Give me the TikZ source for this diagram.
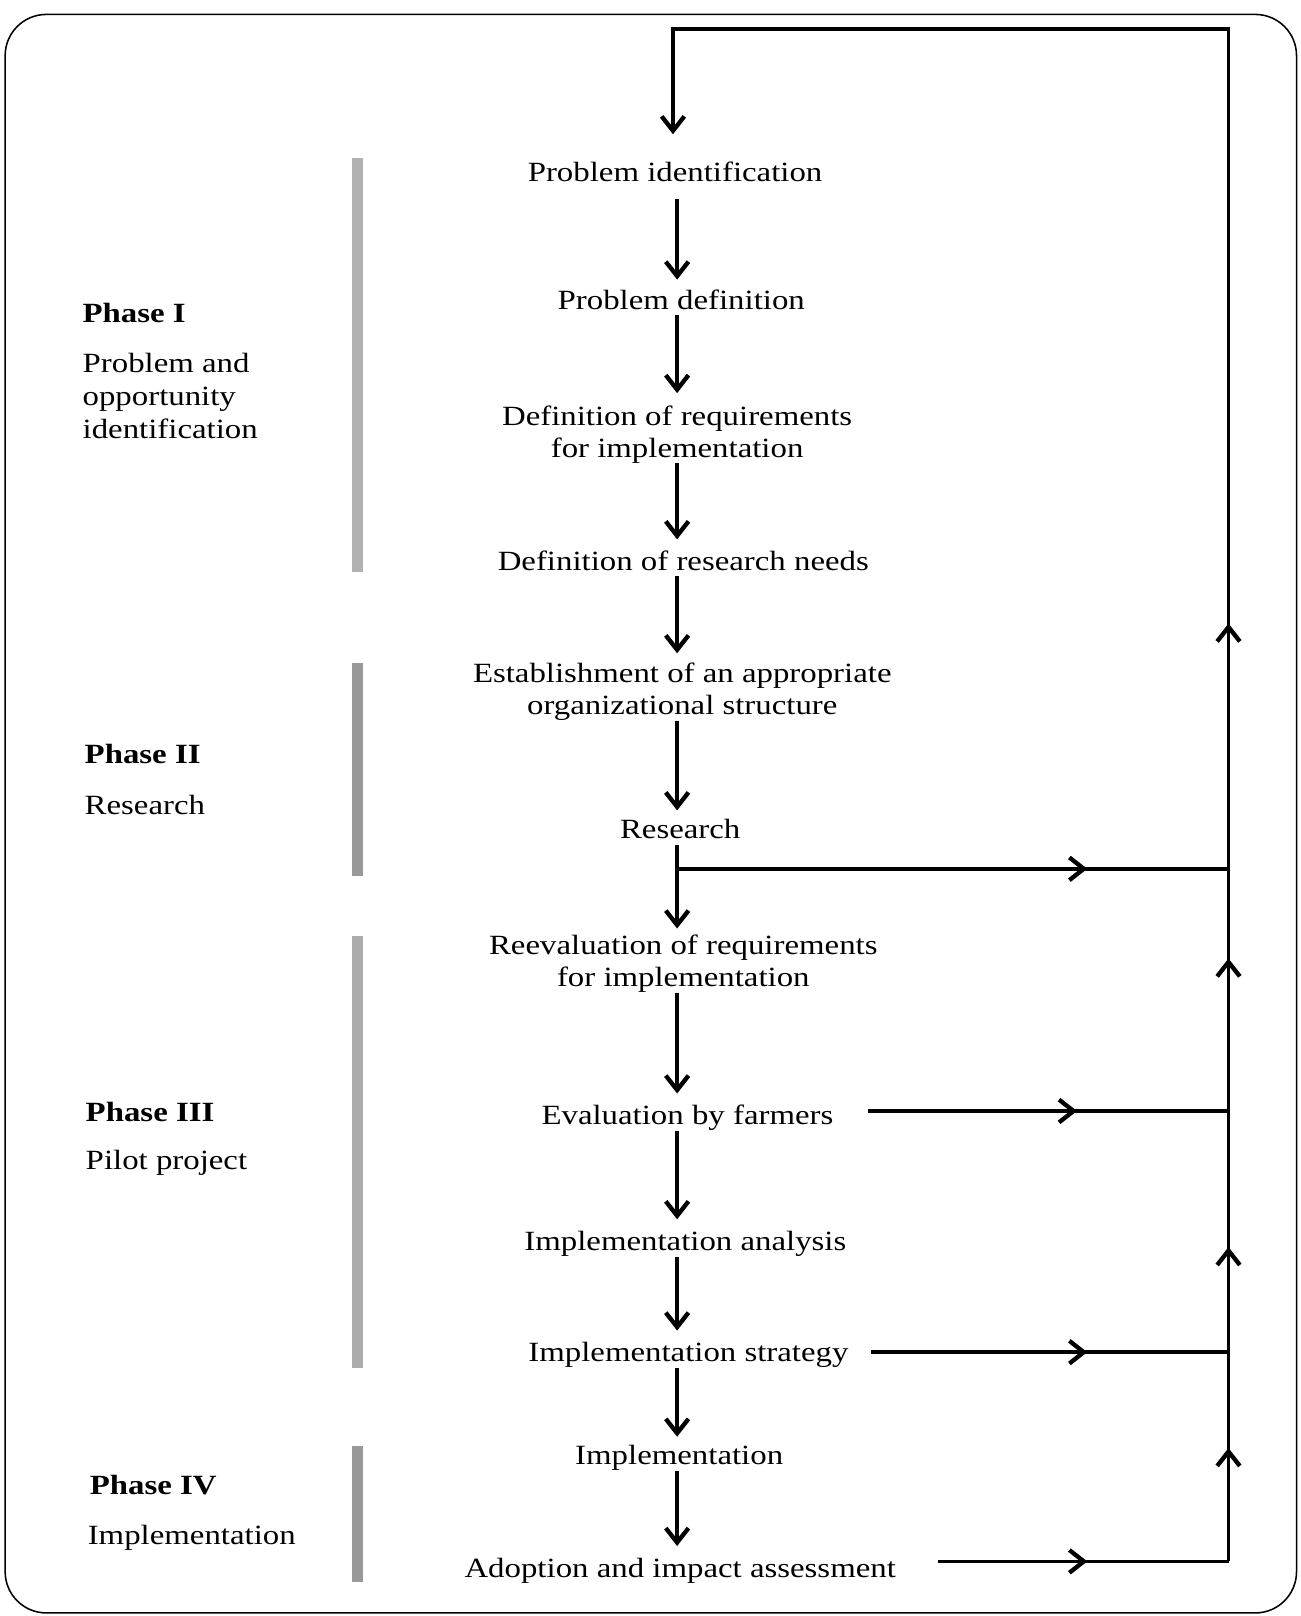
\documentclass[tikz,border=0pt]{standalone}
\usepackage{fontspec}
\setmainfont{Liberation Serif}[FakeStretch=1.18]
\usetikzlibrary{arrows.meta,decorations.markings}
\newcommand\mystrut{\rule[-5.3pt]{0pt}{31pt}}
\begin{document}
\begin{tikzpicture}[x=1pt,y=-1pt,
  stepnode/.style={font=\fontsize{27}{31}\selectfont, align=center, inner sep=0pt,
    execute at begin node=\mystrut, execute at end node=\mystrut},
  phasenode/.style={font=\fontsize{27}{32}\selectfont, align=left, anchor=west, inner sep=0pt},
  flow/.style={line width=3.6pt, line join=miter},
  tipped/.style={flow, -{Straight Barb[length=14pt,width=22pt,line width=4.2pt]}},
  midarr/.style={postaction={decorate,decoration={markings,
    mark=at position #1 with {\arrow{Straight Barb[length=14pt,width=22pt,line width=4.2pt]}}}}}
]
\useasboundingbox (0,0) rectangle (1262,1568);
\draw[line width=1.5pt, rounded corners=40pt] (5,14) rectangle (1258,1565);

% grey phase bars
\fill[gray!60] (342,153) rectangle (352,555);
\fill[gray!80] (342,643) rectangle (352,850);
\fill[gray!65] (342,908) rectangle (352,1327);
\fill[gray!80] (342,1403) rectangle (352,1535);

% phase labels
\node[phasenode] (p1) at (80,304) {\textbf{Phase I}};
\node[phasenode] (p1t) at (80,384) {Problem and\\opportunity\\identification};
\node[phasenode] (p2) at (82,732) {\textbf{Phase II}};
\node[phasenode] (p2t) at (82,781) {Research};
\node[phasenode] (p3) at (83,1079) {\textbf{Phase III}};
\node[phasenode] (p3t) at (83,1128) {Pilot project};
\node[phasenode] (p4) at (87,1441) {\textbf{Phase IV}};
\node[phasenode] (p4t) at (85,1492) {Implementation};

% steps
\node[stepnode] (n1) at (655,166) {Problem identification};
\node[stepnode] (n2) at (661,290) {Problem definition};
\node[stepnode] (n3) at (657,421.5) {Definition of requirements\\for implementation};
\node[stepnode] (n4) at (663,543) {Definition of research needs};
\node[stepnode] (n5) at (662,671) {Establishment of an appropriate\\organizational structure};
\node[stepnode] (n6) at (660,803) {Research};
\node[stepnode] (n7) at (663,935) {Reevaluation of requirements\\for implementation};
\node[stepnode] (n8) at (667,1081) {Evaluation by farmers};
\node[stepnode] (n9) at (665,1203) {Implementation analysis};
\node[stepnode] (n10) at (668,1311) {Implementation strategy};
\node[stepnode] (n11) at (659,1411) {Implementation};
\node[stepnode] (n12) at (660,1521) {Adoption and impact assessment};

\coordinate (col) at (657,0);
\coordinate (tl) at (653,28);
\coordinate (tr) at (1192,28);
\coordinate (jR) at (1192,843);
\coordinate (jE) at (1192,1078);
\coordinate (jS) at (1192,1312);
\coordinate (jA) at (1192,1515);
\coordinate (rb) at (657,843);

% main chain
\draw[tipped, shorten <=11pt, shorten >=3pt] (n1.south -| col) -- (n2.north -| col);
\draw[tipped, shorten >=12pt] (n2.south -| col) -- (n3.north -| col);
\draw[tipped, shorten >=4pt] (n3.south -| col) -- (n4.north -| col);
\draw[tipped, shorten >=9pt] (n4.south -| col) -- (n5.north -| col);
\draw[tipped, shorten >=1pt] (n5.south -| col) -- (n6.north -| col);
\draw[tipped, shorten <=1pt, shorten >=6pt] (n6.south -| col) -- (n7.north -| col);
\draw[tipped, shorten >=4pt] (n7.south -| col) -- (n8.north -| col);
\draw[tipped, shorten >=4pt] (n8.south -| col) -- (n9.north -| col);
\draw[tipped, shorten <=1pt, shorten >=4pt] (n9.south -| col) -- (n10.north -| col);
\draw[tipped, shorten >=1pt] (n10.south -| col) -- (n11.north -| col);
\draw[tipped, shorten >=5pt] (n11.south -| col) -- (n12.north -| col);

% feedback lines
\draw[flow, midarr=-137pt] (rb) -- (jR);
\draw[flow, midarr=-147pt, shorten <=33pt] (n8.east |- jE) -- (jE);
\draw[flow, midarr=-137pt, shorten <=22pt] (n10.east |- jS) -- (jS);
\draw[flow, midarr=-137pt, shorten <=41pt] (n12.east |- jA) -- (jA);

% right return line
\draw[flow, midarr=110pt] (jA) -- (jS);
\draw[flow, midarr=102pt] (jS) -- (jE);
\draw[flow, midarr=148pt] (jE) -- (jR);
\draw[tipped, midarr=238pt, shorten >=20pt] (jR) -- (tr) -- (tl) -- (tl |- n1.north);
\end{tikzpicture}
\end{document}
